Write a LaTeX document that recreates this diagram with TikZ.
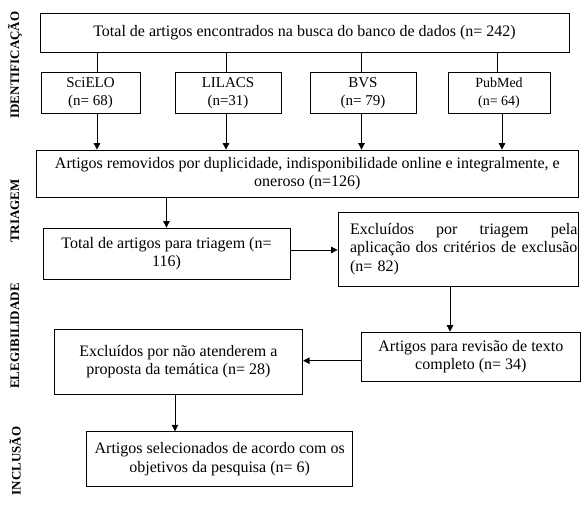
\documentclass[tikz,border=0pt]{standalone}
\usepackage{fontspec}
\setmainfont{Liberation Serif}
\usetikzlibrary{arrows.meta}
\newsavebox{\exclineb}
\begin{document}
\begin{tikzpicture}[x=1pt,y=-1pt,
  box/.style={draw, line width=0.8pt, inner sep=0pt, align=center,
    font=\fontsize{16}{18.4}\selectfont},
  sbox/.style={box, font=\fontsize{15}{18}\selectfont},
  conn/.style={line width=0.8pt},
  arr/.style={line width=0.8pt, -{Triangle[length=6.5pt,width=6.5pt]}},
  phase/.style={rotate=90, font=\bfseries\fontsize{13}{15}\selectfont, inner sep=0pt}]
\useasboundingbox (0,0) rectangle (581,517);

% phase labels
\node[phase] (l1) at (15,65) {IDENTIFICAÇÃO};
\node[phase] (l2) at (15,211) {TRIAGEM};
\node[phase] (l3) at (15,336) {ELEGIBILIDADE};
\node[phase] (l4) at (15,461) {INCLUSÃO};

% boxes
\node[box, minimum width=529pt, minimum height=39pt] (top) at (304.5,32.5)
  {Total de artigos encontrados na busca do banco de dados (n= 242)};
\node[sbox, minimum width=99pt, minimum height=40.5pt] (sci) at (90.5,92.75) {SciELO\\(n= 68)};
\node[sbox, minimum width=106pt, minimum height=40.5pt] (lil) at (228,92.75) {LILACS\\(n=31)};
\node[sbox, minimum width=106pt, minimum height=40.5pt] (bvs) at (363,92.75) {BVS\\(n= 79)};
\node[sbox, minimum width=102pt, minimum height=40.5pt, font=\fontsize{14}{18}\selectfont] (pub) at (499,92.75) {PubMed\\(n= 64)};
\node[box, minimum width=541.3pt, minimum height=47pt] (rem) at (307.35,173.5)
  {Artigos removidos por duplicidade, indisponibilidade online e integralmente, e\\oneroso (n=126)};
\node[box, minimum width=247pt, minimum height=51pt] (tot) at (166.5,253.5)
  {Total de artigos para triagem (n=\\116)};
\node[box, minimum width=240pt, minimum height=74pt, text width=216pt, align=left] (exc) at (458,249)
  {\sbox{\exclineb}{aplicação dos critérios de exclusão}\leavevmode\hbox to\wd\exclineb{Excluídos\hfill por\hfill triagem\hfill pela}\\\usebox{\exclineb}\\(n= 82)};
\node[box, minimum width=218.3pt, minimum height=49.7pt] (rev) at (470.85,356.85)
  {Artigos para revisão de texto\\completo (n= 34)};
\node[box, minimum width=248.7pt, minimum height=64.7pt] (nao) at (178.35,361.65)
  {Excluídos por não atenderem a\\proposta da temática (n= 28)};
\node[box, minimum width=266pt, minimum height=55pt] (sel) at (219.7,459.2)
  {Artigos selecionados de acordo com os\\objetivos da pesquisa (n= 6)};

% connector guide coordinates
\coordinate (x1) at (97,0);
\coordinate (x2) at (226,0);
\coordinate (x3) at (361.5,0);
\coordinate (x4) at (497,0);
\coordinate (x4b) at (502,0);
\coordinate (y1) at (0,250);
\coordinate (x5) at (450,0);
\coordinate (y2) at (0,360.7);
\coordinate (x6) at (175,0);

\draw[conn] (top.south -| x1) -- (sci.north -| x1);
\draw[conn] (top.south -| x2) -- (lil.north -| x2);
\draw[conn] (top.south -| x3) -- (bvs.north -| x3);
\draw[conn] (top.south -| x4) -- (pub.north -| x4);

\draw[arr] (sci.south -| x1) -- (rem.north -| x1);
\draw[arr] (lil.south -| x2) -- (rem.north -| x2);
\draw[arr] (bvs.south -| x3) -- (rem.north -| x3);
\draw[arr] (pub.south -| x4b) -- (rem.north -| x4b);

\draw[arr] (rem.south -| tot.north) -- (tot.north);
\draw[arr] (tot.east |- y1) -- (exc.west |- y1);
\draw[arr] (exc.south -| x5) -- (rev.north -| x5);
\draw[arr] (rev.west |- y2) -- (nao.east |- y2);
\draw[arr] (nao.south -| x6) -- (sel.north -| x6);
\end{tikzpicture}
\end{document}
